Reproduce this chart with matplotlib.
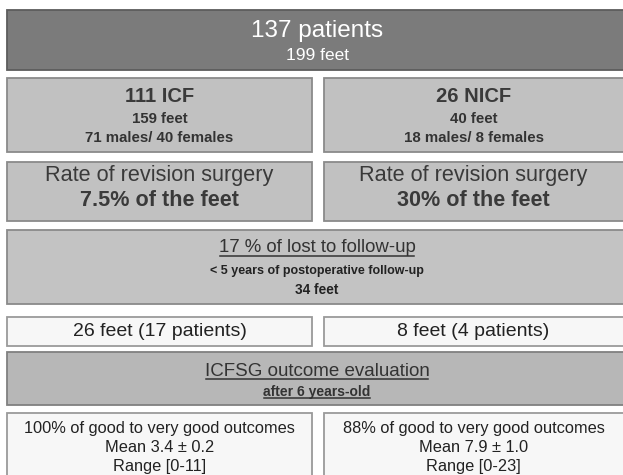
import matplotlib
matplotlib.use("Agg")
import matplotlib.pyplot as plt
from matplotlib.patches import Rectangle

plt.rcParams['font.family'] = ['Liberation Sans', 'DejaVu Sans']

# ---- content ----
total_title = "137 patients"
total_sub = "199 feet"
group_titles = ["111 ICF", "26 NICF"]
group_feet = ["159 feet", "40 feet"]
group_sex = ["71 males/ 40 females", "18 males/ 8 females"]
revision_label = "Rate of revision surgery"
revision_rates = ["7.5% of the feet", "30% of the feet"]
lost_title = "17 % of lost to follow-up"
lost_sub = "< 5 years of postoperative follow-up"
lost_feet = "34 feet"
followed = ["26 feet (17 patients)", "8 feet (4 patients)"]
eval_title = "ICFSG outcome evaluation"
eval_sub = "after 6 years-old"
outcome_pct = ["100% of good to very good outcomes", "88% of good to very good outcomes"]
outcome_mean = ["Mean 3.4 \u00b1 0.2", "Mean 7.9 \u00b1 1.0"]
outcome_range = ["Range [0-11]", "Range [0-23]"]

W, H = 623, 475
fig = plt.figure(figsize=(W / 100, H / 100), dpi=100)
ax = fig.add_axes([0, 0, 1, 1])
ax.set_xlim(0, W)
ax.set_ylim(H, 0)
ax.axis('off')

LX0, LX1 = 7, 312
RX0, RX1 = 324, 623
FX0, FX1 = 7, 623
LC = (LX0 + LX1) / 2
RC = (RX0 + RX1) / 2
FC = (FX0 + FX1) / 2 + 2

DARK = '#7b7b7b'
LIGHT = '#c1c1c1'
MID = '#b7b7b7'
WHITE = '#f7f7f7'


def box(x0, x1, y0, y1, fc, ec):
    ax.add_patch(Rectangle((x0, y0), x1 - x0, y1 - y0, facecolor=fc,
                           edgecolor=ec, linewidth=1.3, zorder=1))


underlines = []


def txt(x, y, s, size, weight='normal', color='#333333', underline=False):
    t = ax.text(x, y, s, ha='center', va='center', fontsize=size,
                fontweight=weight, fontstyle='normal', color=color, zorder=3)
    if underline:
        underlines.append((t, color))
    return t


# Row 1
box(FX0, FX1 + 5, 10, 70, DARK, '#5c5c5c')
txt(FC, 31, total_title, 17.5, color='white')
txt(FC, 56, total_sub, 12.5, color='white')

# Row 2
for (x0, x1, c), t1, t2, t3 in zip([(LX0, LX1, LC), (RX0, RX1 + 5, RC)],
                                   group_titles, group_feet, group_sex):
    box(x0, x1, 78, 152, LIGHT, '#8a8a8a')
    txt(c, 97, t1, 14.5, 'bold', '#3a3a3a')
    txt(c, 119, t2, 10.8, 'bold', '#333333')
    txt(c, 138, t3, 10.8, 'bold', '#333333')

# Row 3
for (x0, x1, c), r in zip([(LX0, LX1, LC), (RX0, RX1 + 5, RC)], revision_rates):
    box(x0, x1, 162, 221, LIGHT, '#8a8a8a')
    txt(c, 176, revision_label, 15.6, 'normal', '#3a3a3a')
    txt(c, 201, r, 15.6, 'bold', '#3a3a3a')

# Row 4
box(FX0, FX1 + 5, 230, 304, '#c3c3c3', '#8a8a8a')
txt(FC, 248, lost_title, 13.4, 'normal', '#333333', underline=True)
txt(FC, 271, lost_sub, 9.0, 'bold', '#222222')
txt(FC, 290, lost_feet, 9.8, 'bold', '#222222')

# Row 5
for (x0, x1, c), f in zip([(LX0, LX1, LC), (RX0, RX1 + 5, RC)], followed):
    box(x0, x1, 317, 346, WHITE, '#9a9a9a')
    txt(c, 331, f, 14.0, 'normal', '#222222')

# Row 6
box(FX0, FX1 + 5, 352, 405, MID, '#808080')
txt(FC, 371, eval_title, 13.5, 'normal', '#333333', underline=True)
txt(FC, 392, eval_sub, 10.0, 'bold', '#333333', underline=True)

# Row 7
for (x0, x1, c), a, b, d in zip([(LX0, LX1, LC), (RX0, RX1 + 5, RC)],
                                outcome_pct, outcome_mean, outcome_range):
    box(x0, x1, 413, H + 10, WHITE, '#9a9a9a')
    txt(c, 428, a, 11.8, 'normal', '#222222')
    txt(c, 448, b, 11.8, 'normal', '#222222')
    txt(c, 467, d, 11.8, 'normal', '#222222')

# underlines
fig.canvas.draw()
r = fig.canvas.get_renderer()
inv = ax.transData.inverted()
for t, col in underlines:
    bb = t.get_window_extent(r)
    (x0, y0), (x1, y1) = inv.transform([[bb.x0, bb.y0], [bb.x1, bb.y1]])
    yb = max(y0, y1) - 1.0
    ax.plot([x0 + 1, x1 - 1], [yb, yb], color=col, lw=1.1, zorder=3)

fig.savefig('out.png', dpi=100)
